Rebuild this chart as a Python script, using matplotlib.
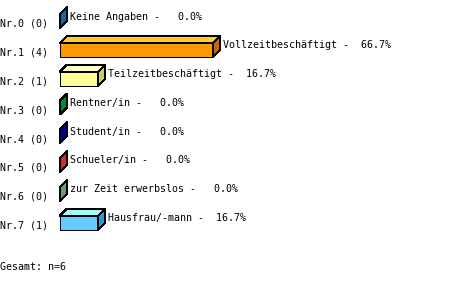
import matplotlib
matplotlib.use("Agg")
import matplotlib.pyplot as plt
from matplotlib.patches import Polygon, Rectangle

# Survey data: employment status
row_labels = ["Nr.0 (0)", "Nr.1 (4)", "Nr.2 (1)", "Nr.3 (0)",
              "Nr.4 (0)", "Nr.5 (0)", "Nr.6 (0)", "Nr.7 (1)"]
categories = ["Keine Angaben", "Vollzeitbeschäftigt", "Teilzeitbeschäftigt",
              "Rentner/in", "Student/in", "Schueler/in",
              "zur Zeit erwerbslos", "Hausfrau/-mann"]
percents = [0.0, 66.7, 16.7, 0.0, 0.0, 0.0, 0.0, 16.7]
total_n = 6

base_colors = ["#4999cd", "#ff9900", "#ffff99", "#33bf6d",
               "#3333c3", "#fb6363", "#9dcd9d", "#66ccff"]


def shade(hex_color, delta):
    r, g, b = (int(hex_color[k:k + 2], 16) for k in (1, 3, 5))
    clip = lambda c: max(0, min(255, c + delta))
    return "#%02x%02x%02x" % (clip(r), clip(g), clip(b))


W, H, DPI = 459, 282, 100
fig = plt.figure(figsize=(W / DPI, H / DPI), dpi=DPI)
ax = fig.add_axes([0, 0, 1, 1])
ax.set_axis_off()

# pixel layout of the value axis and the rows
x0_px, px_per_pct = 60, 2.295
y0_px, px_per_row = 21, 28.8
ax.set_xlim(-x0_px / px_per_pct, (W - x0_px) / px_per_pct)
ax.set_ylim((H - y0_px) / px_per_row, -y0_px / px_per_row)

depth_px = 7
dx = depth_px / px_per_pct
dy = depth_px / px_per_row
h = 7 / px_per_row
lw = 0.72

font = dict(family="DejaVu Sans Mono", fontsize=7.2, color="black")

for i, (lab, cat, v, col) in enumerate(zip(row_labels, categories, percents, base_colors)):
    top = shade(col, 0x33)
    side = shade(col, -0x33)
    front = Rectangle((0, i - h), v, 2 * h, facecolor=col, edgecolor="black",
                      lw=lw, antialiased=False)
    top_face = Polygon([(0, i - h), (v, i - h), (v + dx, i - h - dy), (dx, i - h - dy)],
                       closed=True, facecolor=top, edgecolor="black", lw=lw,
                       antialiased=False)
    side_face = Polygon([(v, i - h), (v + dx, i - h - dy), (v + dx, i + h - dy), (v, i + h)],
                        closed=True, facecolor=side, edgecolor="black", lw=lw,
                        antialiased=False)
    if v > 0:
        ax.add_patch(front)
        ax.add_patch(top_face)
    ax.add_patch(side_face)

    ax.text(-x0_px / px_per_pct, i + 3 / px_per_row, lab, ha="left", va="center", **font)
    ax.text(v + dx + 3 / px_per_pct, i - 4.5 / px_per_row,
            f"{cat} - {v:5.1f}%", ha="left", va="center", **font)

fig.text(0, 1 - 267 / H, f"Gesamt: n={total_n}", ha="left", va="center", **font)

fig.savefig("out.png", dpi=DPI, facecolor="white")
